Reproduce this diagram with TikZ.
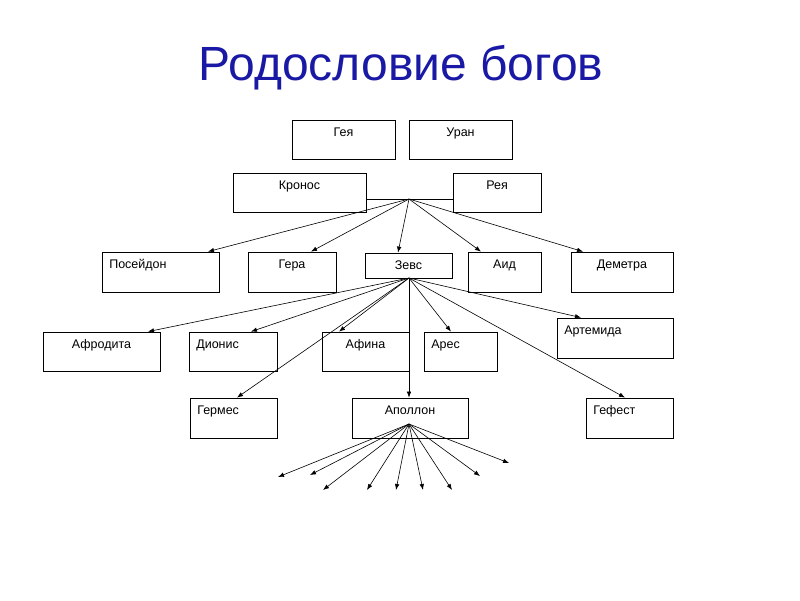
\documentclass[tikz,border=0pt]{standalone}
\usepackage{fontspec}
\setmainfont{Liberation Sans}
\usepackage{xcolor}
\usetikzlibrary{arrows.meta}

\definecolor{titleblue}{RGB}{25,25,165}
\newcommand{\godfont}{\fontsize{12.5}{14}\selectfont}

\tikzset{
	god/.style={draw, line width=0.8pt, inner sep=0pt},
	gname/.style={font=\godfont, inner sep=0pt, text height=9pt, text depth=0pt, yshift=-7.5pt},
	mid/.style={label={[gname, anchor=north]north:#1}},
	lft/.style={label={[gname, anchor=north west, xshift=7.5pt]north west:#1}},
	arr/.style={-{Latex[length=6pt,width=4.5pt]}, line width=0.6pt},
}

\begin{document}
\begin{tikzpicture}[x=1pt, y=-1pt]
		
		\useasboundingbox (0,0) rectangle (800,600);
		
		\node[anchor=base, text=titleblue, font=\fontsize{48}{54}\selectfont]
		(title) at (401,80) {Родословие богов};
		
		% parents
		\node[god, minimum width=103, minimum height=39, mid=Гея] (gea) at (343.5,139.5) {};
		\node[god, minimum width=103, minimum height=39, mid=Уран] (uran) at (460.5,139.5) {};
		\node[god, minimum width=133, minimum height=39, mid=Кронос] (kronos) at (299.5,192.5) {};
		\node[god, minimum width=88, minimum height=39, mid=Рея] (rea) at (497,192.5) {};
		
		% children of Kronos and Rea
		\node[god, minimum width=117, minimum height=40, lft=Посейдон] (poseidon) at (160.5,272) {};
		\node[god, minimum width=88, minimum height=40, mid=Гера] (hera) at (292,272) {};
		\node[god, minimum width=87, minimum height=25, mid=Зевс] (zeus) at (408.5,265.5) {};
		\node[god, minimum width=73, minimum height=40, mid=Аид] (hades) at (504.5,272) {};
		\node[god, minimum width=102, minimum height=40, mid=Деметра] (demeter) at (622,272) {};
		
		% children of Zeus
		\node[god, minimum width=117, minimum height=39, mid=Афродита] (aphrodite) at (101.5,351.5) {};
		\node[god, minimum width=88, minimum height=39, lft=Дионис] (dionysus) at (233,351.5) {};
		\node[god, minimum width=87, minimum height=39, mid=Афина] (athena) at (365.5,351.5) {};
		\node[god, minimum width=73, minimum height=39, lft=Арес] (ares) at (460.5,351.5) {};
		\node[god, minimum width=116, minimum height=40, lft=Артемида] (artemis) at (615,338) {};
		\node[god, minimum width=87, minimum height=40, lft=Гермес] (hermes) at (233.5,418) {};
		\node[god, minimum width=116, minimum height=40, mid=Аполлон] (apollo) at (410,418) {};
		\node[god, minimum width=87, minimum height=40, lft=Гефест] (hephaestus) at (629.5,418) {};
		
		\coordinate (kr) at (409,199);
		\coordinate (zf) at (409,278);
		\coordinate (af) at (409,424);
		
		\draw[line width=0.8pt]
		(kronos.east |- kr) -- (rea.west |- kr);
		
		\draw[arr] (kr) -- (poseidon.north -| 208,0);
		\draw[arr] (kr) -- (hera.north -| 311,0);
		\draw[arr] (kr) -- (zeus.north -| 398,0);
		\draw[arr] (kr) -- (hades.north -| 481,0);
		\draw[arr] (kr) -- (demeter.north -| 583,0);
		
		\draw[arr] (zf) -- (aphrodite.north -| 148,0);
		\draw[arr] (zf) -- (dionysus.north -| 251,0);
		\draw[arr] (zf) -- (athena.north -| 339,0);
		\draw[arr] (zf) -- (ares.north -| 451,0);
		\draw[arr] (zf) -- (artemis.north -| 581,0);
		\draw[arr] (zf) -- (hermes.north -| 237,0);
		\draw[arr] (zf) -- (apollo.north -| 409,0);
		\draw[arr] (zf) -- (hephaestus.north -| 625,0);
		
		% Apollo: open ends
		\coordinate (a1) at (278,477);
		\coordinate (a2) at (310,475);
		\coordinate (a3) at (323,490);
		\coordinate (a4) at (367,490);
		\coordinate (a5) at (396,490);
		\coordinate (a6) at (423,490);
		\coordinate (a7) at (452,490);
		\coordinate (a8) at (480,476);
		\coordinate (a9) at (509,463);
		
		\draw[arr] (af) -- (a1);
		\draw[arr] (af) -- (a2);
		\draw[arr] (af) -- (a3);
		\draw[arr] (af) -- (a4);
		\draw[arr] (af) -- (a5);
		\draw[arr] (af) -- (a6);
		\draw[arr] (af) -- (a7);
		\draw[arr] (af) -- (a8);
		\draw[arr] (af) -- (a9);
		
	\end{tikzpicture}
\end{document}
